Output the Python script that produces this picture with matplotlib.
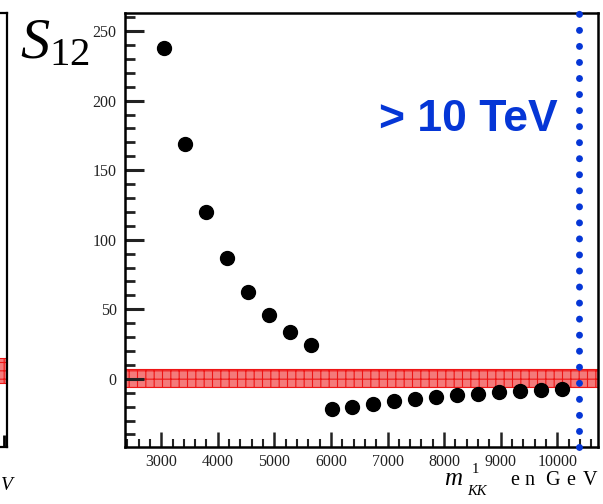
import matplotlib
matplotlib.use("Agg")
import matplotlib.pyplot as plt
from matplotlib.ticker import MultipleLocator

plt.rcParams['mathtext.fontset'] = 'custom'
plt.rcParams['mathtext.rm'] = 'Liberation Serif'
plt.rcParams['mathtext.it'] = 'Liberation Serif:italic'
plt.rcParams['hatch.linewidth'] = 0.8

# Data
mass = [3050, 3420, 3790, 4160, 4530, 4900, 5270, 5640, 6010, 6380,
        6750, 7120, 7490, 7860, 8230, 8600, 8970, 9340, 9710, 10080]
s12 = [238, 169, 120, 87, 62.5, 46, 34, 24.5, -22, -20,
       -18, -16, -14.5, -13, -11.5, -10.8, -9.5, -8.6, -7.9, -7.2]
band_low, band_high = -6, 7
limit_mass = 10390
x_major = [3000, 4000, 5000, 6000, 7000, 8000, 9000, 10000]
y_major = [0, 50, 100, 150, 200, 250]

W, H = 603, 504
fig = plt.figure(figsize=(W / 100, H / 100), dpi=100)

def fx(px):
    return px / W

def fy(py):
    return 1 - py / H

blue = '#0536d6'
band_face = '#f47a7a'
band_hatch = '#ee1515'

# partial left panel (cut off)
ax0 = fig.add_axes([fx(-200), fy(447), fx(207), fy(13) - fy(447)])
ax0.set_xlim(0, 1)
ax0.set_ylim(-49, 263)
ax0.axhspan(-3, 15, facecolor=band_face, edgecolor=band_hatch, hatch='++', lw=0.8)
ax0.set_yticks([])
ax0.set_xticks([0.985])
ax0.set_xticklabels([])
ax0.tick_params(axis='x', direction='in', length=9, width=2)
for s in ax0.spines.values():
    s.set_linewidth(1.6)

# main panel
ax = fig.add_axes([fx(125), fy(447), fx(598) - fx(125), fy(13) - fy(447)])
ax.set_xlim(2360, 10720)
ax.set_ylim(-49, 263)
ax.axhspan(band_low, band_high, facecolor=band_face, edgecolor=band_hatch,
           hatch='++', lw=0.8, zorder=1)
ax.plot(mass, s12, 'o', color='black', markersize=10, zorder=3)
ax.axvline(limit_mass, color=blue, lw=5, ls=(0, (0.01, 2.3)),
           dash_capstyle='round', zorder=5, clip_on=False)

ax.set_xticks(x_major)
ax.set_yticks(y_major)
ax.xaxis.set_minor_locator(MultipleLocator(200))
ax.yaxis.set_minor_locator(MultipleLocator(10))
ax.tick_params(which='both', direction='in', top=False, right=False,
               labelsize=11.5, colors='#222222')
ax.tick_params(axis='y', which='major', length=14, width=2.2, pad=6)
ax.tick_params(axis='y', which='minor', length=7, width=2.0)
ax.tick_params(axis='x', which='major', length=11, width=1.8, pad=5)
ax.tick_params(axis='x', which='minor', length=5.5, width=1.5)
for lab in ax.get_xticklabels() + ax.get_yticklabels():
    lab.set_fontfamily('Liberation Serif')
for s in ax.spines.values():
    s.set_linewidth(1.8)

ax.text(fx(558), fy(131), '> 10 TeV', transform=fig.transFigure,
        ha='right', va='baseline', color=blue, fontsize=32,
        fontweight='bold', family='Liberation Sans', zorder=6)

# S_12 label
fig.text(fx(20), fy(58), r'$S_{12}$', fontsize=42, ha='left', va='baseline')

# x-axis label
fig.text(fx(444), fy(485), 'm', fontsize=18, style='italic',
         family='Liberation Serif', ha='left', va='baseline')
fig.text(fx(472), fy(473), '1', fontsize=10.5,
         family='Liberation Serif', ha='left', va='baseline')
fig.text(fx(467), fy(495), 'KK', fontsize=10.5, style='italic',
         family='Liberation Serif', ha='left', va='baseline')
for ch, px in zip('enGeV', [510, 524, 545, 566, 583]):
    fig.text(fx(px), fy(485), ch, fontsize=14.5,
             family='Liberation Serif', ha='left', va='baseline')

# label fragment of left panel
fig.text(fx(1), fy(490), 'V', fontsize=14, style='italic',
         family='Liberation Serif', ha='left', va='baseline')

fig.savefig('out.png', dpi=100)
